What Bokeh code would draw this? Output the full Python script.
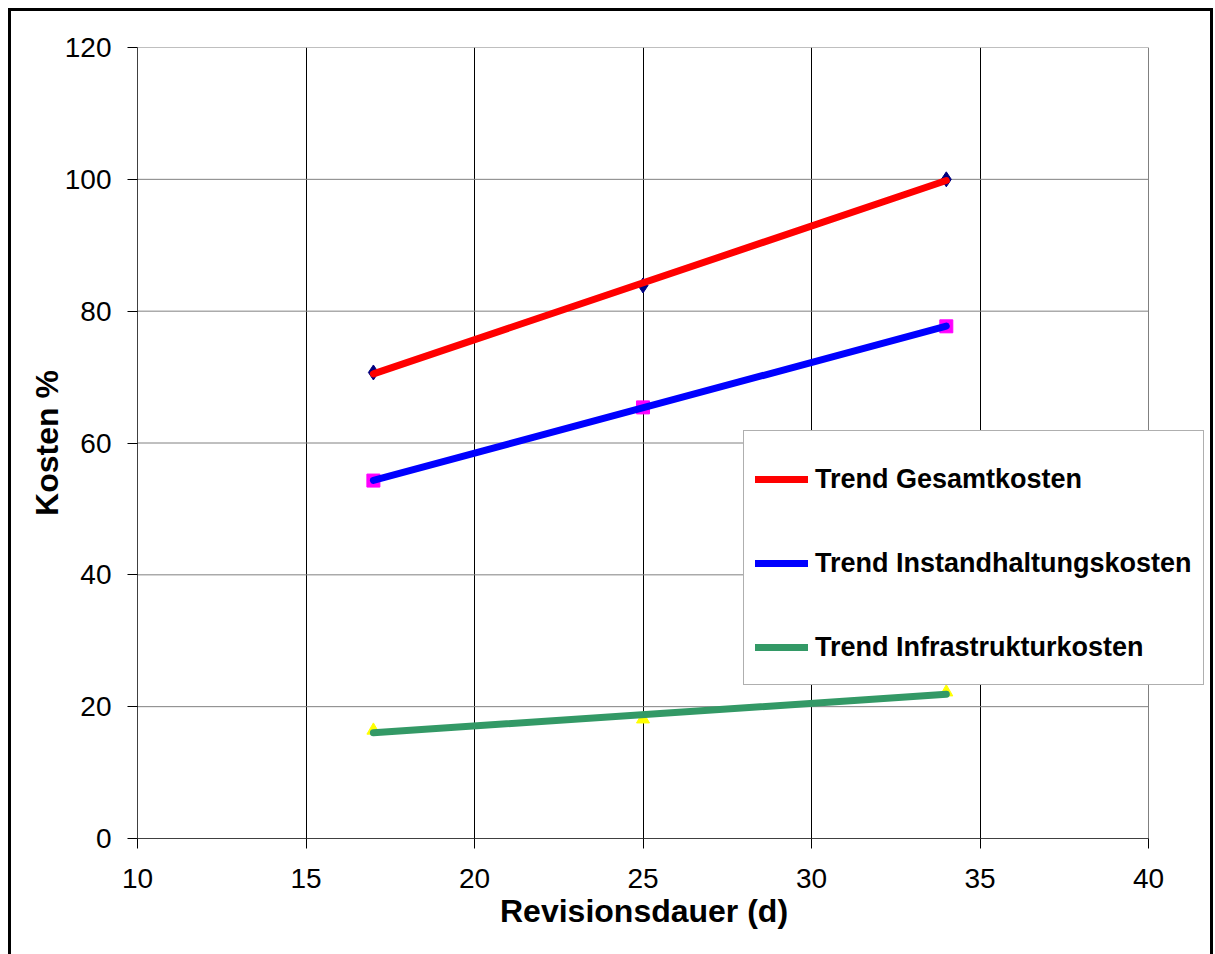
import numpy as np
from bokeh.plotting import figure
from bokeh.models import Range1d, FixedTicker, Legend, LegendItem, Title
from bokeh.embed import file_html
from bokeh.resources import INLINE

# Revision duration in days and the cost shares (%) measured for each
durations = [17, 25, 34]
gesamtkosten = [70.7, 83.9, 100.0]
instandhaltungskosten = [54.3, 65.4, 77.7]
infrastrukturkosten = [16.4, 18.1, 22.2]

x_ticks = [10, 15, 20, 25, 30, 35, 40]
y_ticks = [0, 20, 40, 60, 80, 100, 120]

trend_labels = ["Trend Gesamtkosten", "Trend Instandhaltungskosten", "Trend Infrastrukturkosten"]
x_title = "Revisionsdauer (d)"
y_title = "Kosten %"

FONT = "Liberation Sans"

# plot area geometry (pixels): the data area spans x 10..40, but the frame is
# widened to the right so the legend box can overhang the plot area
X0, X1 = x_ticks[0], x_ticks[-1]
Y0, Y1 = y_ticks[0], y_ticks[-1]
plot_left, plot_right, frame_right = 137, 1148, 1209
x_end = X0 + (X1 - X0) * (frame_right - plot_left) / (plot_right - plot_left)

p = figure(width=1215, height=954, output_backend="svg", toolbar_location=None,
           x_range=Range1d(X0, x_end), y_range=Range1d(Y0, Y1),
           min_border_left=plot_left, min_border_right=1215 - frame_right,
           min_border_top=47, min_border_bottom=116)

p.background_fill_color = None
p.border_fill_color = None
p.outline_line_color = None

# black outer chart border painted behind the transparent canvas
p.styles = {
    "background": (
        "linear-gradient(#000,#000) 8px 8px / 3px calc(100% - 8px) no-repeat, "
        "linear-gradient(#000,#000) 8px 8px / 1205px 3px no-repeat, "
        "linear-gradient(#000,#000) 1210px 8px / 3px calc(100% - 8px) no-repeat, "
        "#ffffff"
    )
}

# vertical grid lines: black
p.xgrid.ticker = FixedTicker(ticks=x_ticks[1:-1])
p.xgrid.grid_line_color = "black"
p.xgrid.grid_line_width = 1
p.ygrid.grid_line_color = None

# horizontal grid lines and the right border of the plot area: grey
p.segment(x0=[X0] * len(y_ticks), x1=[X1] * len(y_ticks), y0=y_ticks, y1=y_ticks,
          line_color="#808080", line_width=1)
p.segment(x0=[X1], x1=[X1], y0=[Y0], y1=[Y1], line_color="#808080", line_width=1)

for ax, ticks in ((p.xaxis, x_ticks), (p.yaxis, y_ticks)):
    ax.ticker = FixedTicker(ticks=ticks)
    ax.bounds = (ticks[0], ticks[-1])
    ax.major_tick_out = 10
    ax.major_tick_in = 0
    ax.minor_tick_out = 0
    ax.minor_tick_in = 0
    ax.major_tick_line_color = "black"
    ax.axis_line_color = "#404040"
    ax.major_label_text_font = FONT
    ax.major_label_text_font_size = "28px"
    ax.major_label_text_color = "black"
    ax.axis_label_text_font = FONT
    ax.axis_label_text_font_size = "32px"
    ax.axis_label_text_font_style = "bold"
    ax.axis_label_text_color = "black"

p.xaxis.major_label_standoff = 20
p.yaxis.major_label_standoff = 16
p.yaxis.axis_label = y_title
p.yaxis.axis_label_standoff = -3

# x axis title, centred under the 10..40 data area rather than the widened frame
x_title_width = 286
p.add_layout(Title(text=x_title, align="left", offset=(plot_right - plot_left - x_title_width) / 2,
                   text_font=FONT, text_font_size="32px", text_font_style="bold",
                   text_color="black", vertical_align="top", standoff=4), "below")

# measured points
p.scatter(durations, gesamtkosten, marker="diamond", size=15, fill_color="#000080", line_color="#000080")
p.scatter(durations, instandhaltungskosten, marker="square", size=13, fill_color="#FF00FF", line_color="#FF00FF")
p.scatter(durations, infrastrukturkosten, marker="triangle", size=13, fill_color="#FFFF00", line_color="#FFFF00")

# linear trend lines over the measured range
xs_end = [durations[0], durations[-1]]
trend_renderers = []
for series, color in ((gesamtkosten, "#FF0000"), (instandhaltungskosten, "#0000FF"),
                      (infrastrukturkosten, "#339966")):
    slope, intercept = np.polyfit(durations, series, 1)
    ys = [slope * x + intercept for x in xs_end]
    r = p.line(xs_end, ys, line_color=color, line_width=7, line_cap="round")
    trend_renderers.append(r)

legend = Legend(items=[LegendItem(label=lab, renderers=[r]) for lab, r in zip(trend_labels, trend_renderers)],
                location=(606, 153), orientation="vertical")
legend.margin = 0
legend.padding = 11
legend.title = " "
legend.title_text_font_size = "1px"
legend.title_standoff = 10
legend.spacing = 32
legend.glyph_width = 53
legend.glyph_height = 52
legend.label_height = 52
legend.label_standoff = 7
legend.label_text_font = FONT
legend.label_text_font_size = "27px"
legend.label_text_font_style = "bold"
legend.label_text_color = "black"
legend.border_line_color = "#606060"
legend.border_line_width = 1
legend.background_fill_color = "white"
legend.background_fill_alpha = 1
p.add_layout(legend)

open("out.html", "w").write(file_html(p, INLINE))
